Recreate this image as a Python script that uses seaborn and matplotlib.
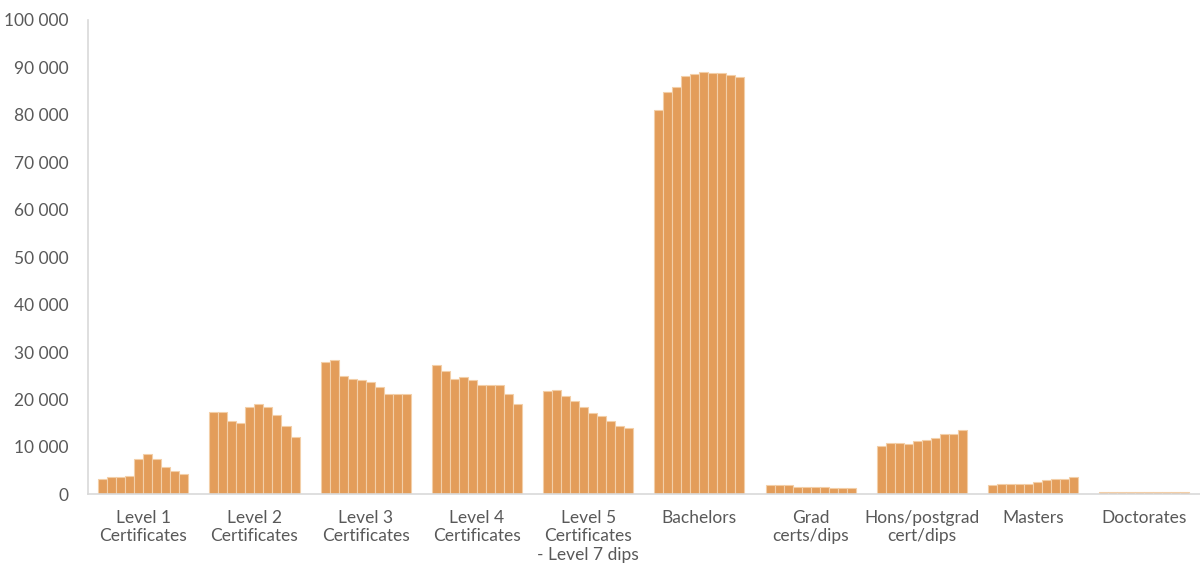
import pandas as pd
import seaborn as sns
import matplotlib.pyplot as plt
from matplotlib.ticker import FuncFormatter

categories = ['Level 1\nCertificates', 'Level 2\nCertificates', 'Level 3\nCertificates',
              'Level 4\nCertificates', 'Level 5\nCertificates\n- Level 7 dips', 'Bachelors',
              'Grad\ncerts/dips', 'Hons/postgrad\ncert/dips', 'Masters', 'Doctorates']
years = [str(y) for y in range(2011, 2021)]

level1 = [3200, 3600, 3600, 3900, 7400, 8600, 7400, 5800, 4900, 4200]
level2 = [17400, 17400, 15500, 15100, 18400, 19000, 18400, 16700, 14400, 12200]
level3 = [28000, 28400, 25000, 24300, 24100, 23700, 22700, 21100, 21100, 21100]
level4 = [27300, 26000, 24300, 24700, 24100, 23100, 23100, 23100, 21100, 19000]
level5 = [21700, 22000, 20700, 19700, 18400, 17100, 16500, 15500, 14400, 14100]
bachelors = [81100, 84800, 85800, 88100, 88500, 89100, 88900, 88900, 88300, 87900]
grad_certs = [2000, 2000, 2000, 1600, 1600, 1600, 1600, 1300, 1300, 1300]
hons = [10200, 10900, 10900, 10600, 11200, 11500, 11900, 12800, 12800, 13500]
masters = [2000, 2300, 2300, 2300, 2300, 2600, 3000, 3300, 3300, 3600]
doctorates = [550, 550, 550, 550, 550, 550, 550, 550, 550, 550]

series = [level1, level2, level3, level4, level5, bachelors, grad_certs, hons, masters, doctorates]
rows = []
for cat, vals in zip(categories, series):
    for yr, v in zip(years, vals):
        rows.append({'qualification': cat, 'year': yr, 'count': v})
df = pd.DataFrame(rows)

sns.set_style('white')
plt.rcParams['font.family'] = ['Lato', 'DejaVu Sans']

fig = plt.figure(figsize=(12, 5.67), dpi=100)
ax = fig.add_axes([0.073, 0.128, 0.927, 0.837])

sns.barplot(data=df, x='qualification', y='count', hue='year',
            palette=['#e39d5a'] * len(years), saturation=1, width=0.81, legend=False,
            edgecolor='#f3cfa8', linewidth=0.8, ax=ax)

ax.set_xlim(-0.5, 9.5)
ax.set_ylim(0, 100000)
ax.set_yticks(range(0, 100001, 10000))
ax.yaxis.set_major_formatter(FuncFormatter(lambda v, p: f'{int(v):,}'.replace(',', ' ')))
ax.set_xlabel('')
ax.set_ylabel('')
ax.tick_params(axis='both', colors='#595959', labelsize=12.5, length=0)
ax.tick_params(axis='x', pad=11)
ax.tick_params(axis='y', pad=14)

for s in ['top', 'right']:
    ax.spines[s].set_visible(False)
for s in ['left', 'bottom']:
    ax.spines[s].set_color('#d9d9d9')
    ax.spines[s].set_linewidth(1.2)

plt.savefig('out.png', dpi=100)
